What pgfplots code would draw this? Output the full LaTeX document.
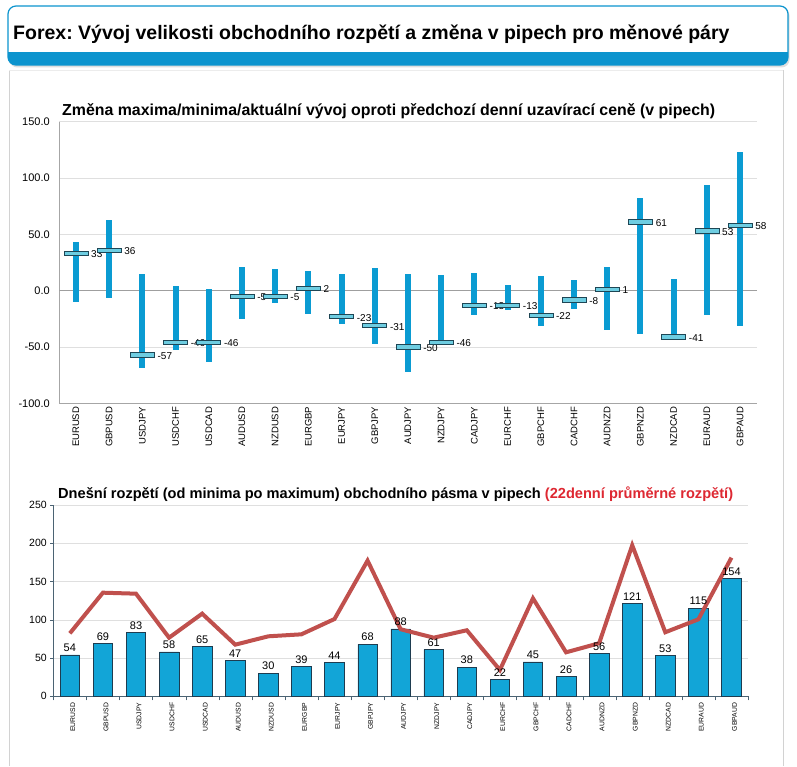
\documentclass[border=0pt]{standalone}
\usepackage{pgfplots}
\pgfplotsset{compat=1.18}
\usepackage{pgfplotstable}
\usepackage{fontspec}
\setmainfont{Liberation Sans}
\newfontfamily\narrowfont{Liberation Sans}
\definecolor{headblue}{RGB}{12,148,206}
\definecolor{barblue}{RGB}{10,155,210}
\definecolor{markfill}{RGB}{110,205,225}
\definecolor{markdraw}{RGB}{30,70,85}
\definecolor{colblue}{RGB}{18,165,215}
\definecolor{coldark}{RGB}{30,60,80}
\definecolor{avgred}{RGB}{192,80,77}
\definecolor{titlered}{RGB}{222,40,50}
\pgfdeclareplotmark{hbar}{\pgfpathrectangle{\pgfpoint{-12pt}{-2.2pt}}{\pgfpoint{24pt}{4.4pt}}\pgfusepathqfillstroke}
\frenchspacing

\pgfplotstableread{
x name low high cur
0 EURUSD -10.4 43.2 33
1 GBPUSD -6.2 62.5 36
2 USDJPY -68.5 14.5 -57
3 USDCHF -53 4.4 -46
4 USDCAD -63 1.8 -46
5 AUDUSD -24.9 21.3 -5
6 NZDUSD -10.7 19.6 -5
7 EURGBP -20.5 17.8 2
8 EURJPY -29.4 14.5 -23
9 GBPJPY -47.2 20.5 -31
10 AUDJPY -72.4 15.1 -50
11 NZDJPY -46.8 14.2 -46
12 CADJPY -22 16 -13
13 EURCHF -16.9 5.3 -13
14 GBPCHF -31.1 13.3 -22
15 CADCHF -16 9.8 -8
16 AUDNZD -34.7 21.3 1
17 GBPNZD -38.3 82.7 61
18 NZDCAD -42.5 10.5 -41
19 EURAUD -21.4 93.4 53
20 GBPAUD -31.5 122.8 58
}\toptable

\pgfplotstableread{
x name range avg
0 EURUSD 54 82.3
1 GBPUSD 69 135.4
2 USDJPY 83 134.1
3 USDCHF 58 76.6
4 USDCAD 65 108
5 AUDUSD 47 67.5
6 NZDUSD 30 78.4
7 EURGBP 39 81
8 EURJPY 44 101
9 GBPJPY 68 177.3
10 AUDJPY 88 87.6
11 NZDJPY 61 76.6
12 CADJPY 38 86.3
13 EURCHF 22 34.4
14 GBPCHF 45 128
15 CADCHF 26 57.5
16 AUDNZD 56 69.3
17 GBPNZD 121 197.4
18 NZDCAD 53 83.7
19 EURAUD 115 100.6
20 GBPAUD 154 181.2
}\bottable

\begin{document}
\begin{tikzpicture}
\path[use as bounding box, fill=white] (0,0) rectangle (797pt,766pt);
% panel
\draw[gray!35, line width=0.8pt] (9pt,0pt) -- (9pt,696pt);
\draw[gray!35, line width=0.8pt] (783pt,0pt) -- (783pt,696pt);
\draw[gray!15, line width=0.8pt] (9pt,696pt) -- (783pt,696pt);
% header
\fill[gray!25, rounded corners=8pt] (9.5pt,698.5pt) rectangle (789.5pt,758.5pt);
\begin{scope}
\clip[rounded corners=8pt] (8pt,701pt) rectangle (788pt,760pt);
\fill[white] (8pt,701pt) rectangle (788pt,760pt);
\fill[headblue] (8pt,701pt) rectangle (788pt,713.5pt);
\end{scope}
\draw[headblue, line width=1.2pt, rounded corners=8pt] (8pt,701pt) rectangle (788pt,760pt);
\node[anchor=base west, inner sep=0pt, font=\narrowfont\bfseries\fontsize{19.5}{22}\selectfont] at (13pt,726.5pt) {Forex: Vývoj velikosti obchodního rozpětí a změna v pipech pro měnové páry};
% titles
\node[anchor=base west, inner sep=0pt, font=\narrowfont\bfseries\fontsize{15.9}{18}\selectfont] at (62pt,650.3pt) {Změna maxima/minima/aktuální vývoj oproti předchozí denní uzavírací ceně (v pipech)};
\node[anchor=base west, inner sep=0pt, font=\narrowfont\bfseries\fontsize{14.6}{17}\selectfont] at (58pt,267.7pt) {Dnešní rozpětí (od minima po maximum) obchodního pásma v pipech \textcolor{titlered}{(22denní průměrné rozpětí)}};

\begin{axis}[
  at={(59.3pt,362.7pt)}, anchor=south west, scale only axis,
  width=697.4pt, height=281.6pt,
  xmin=-0.5, xmax=20.5, ymin=-100, ymax=150,
  ytick={-100,-50,0,50,100,150},
  xtick={0,...,20}, xticklabels from table={\toptable}{name},
  /pgf/number format/assume math mode=true,
  x tick label style={rotate=90, anchor=east, font=\fontsize{9.5}{10}\selectfont},
  y tick label style={font=\fontsize{11}{12}\selectfont, xshift=-6pt, /pgf/number format/fixed, /pgf/number format/fixed zerofill, /pgf/number format/precision=1},
  axis lines*=left, axis line style={gray!70},
  major tick length=0pt,
  ymajorgrids, grid style={gray!25},
  clip=false,
]
\draw[gray!75, line width=0.8pt] (axis cs:-0.5,0) -- (axis cs:20.5,0);
\addplot[draw=none, mark=none, forget plot,
  error bars/.cd, y dir=both, y explicit, error mark=none,
  error bar style={line width=6pt, color=barblue, line cap=butt}]
  table[x=x, y=cur, y error plus expr=\thisrow{high}-\thisrow{cur}, y error minus expr=\thisrow{cur}-\thisrow{low}] {\toptable};
\addplot[only marks, mark=hbar, mark options={fill=markfill, draw=markdraw, line width=0.6pt},
  point meta=explicit,
  nodes near coords={\pgfmathprintnumber[fixed,precision=0]{\pgfplotspointmeta}},
  every node near coord/.append style={anchor=west, xshift=14pt, yshift=-1pt, inner sep=1pt, font=\fontsize{10}{11}\selectfont, text=black}]
  table[x=x, y=cur, meta=cur] {\toptable};
\end{axis}

\begin{axis}[
  at={(53.3pt,69.7pt)}, anchor=south west, scale only axis,
  width=694.7pt, height=191.3pt,
  xmin=-0.5, xmax=20.5, ymin=0, ymax=250,
  ytick={0,50,100,150,200,250},
  xtick={0,...,20}, xticklabels from table={\bottable}{name},
  minor xtick={-0.5,0.5,...,20.5},
  /pgf/number format/assume math mode=true,
  x tick label style={rotate=90, anchor=east, font=\fontsize{6.8}{7}\selectfont, yshift=-3pt},
  y tick label style={font=\fontsize{10.5}{12}\selectfont},
  axis lines*=left, axis line style={coldark!80},
  tick align=outside, major tick length=3pt, minor tick length=4pt,
  xtick style={draw=none}, minor x tick style={draw=coldark!80},
  ytick style={draw=coldark!80},
  ymajorgrids, grid style={gray!25},
  clip=false,
]
\addplot[ybar, bar width=19.5pt, fill=colblue, draw=coldark, line width=0.6pt,
  nodes near coords, every node near coord/.append style={font=\fontsize{11}{12}\selectfont, text=black, inner sep=3pt}]
  table[x=x, y=range] {\bottable};
\addplot[sharp plot, mark=none, color=avgred, line width=4pt, line join=miter]
  table[x=x, y=avg] {\bottable};
\end{axis}
\end{tikzpicture}
\end{document}
